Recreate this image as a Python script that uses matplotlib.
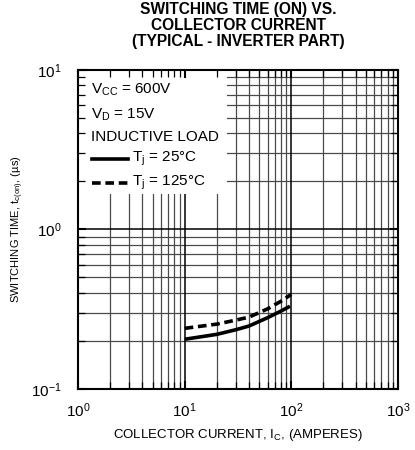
import matplotlib
matplotlib.use("Agg")
import matplotlib.pyplot as plt
import numpy as np
from matplotlib.patches import Rectangle
from matplotlib.lines import Line2D
from matplotlib.ticker import LogLocator, NullFormatter

plt.rcParams['font.family'] = ['Liberation Sans', 'DejaVu Sans']
plt.rcParams['mathtext.fontset'] = 'custom'
plt.rcParams['mathtext.rm'] = 'Liberation Sans'
plt.rcParams['mathtext.it'] = 'Liberation Sans:italic'
plt.rcParams['mathtext.bf'] = 'Liberation Sans:bold'

# Data
ic_25 = [10, 20, 30, 40, 60, 80, 97]
t_25 = [0.205, 0.220, 0.235, 0.248, 0.280, 0.308, 0.330]
ic_125 = [10, 20, 30, 40, 60, 80, 100]
t_125 = [0.240, 0.255, 0.270, 0.282, 0.318, 0.355, 0.392]
cond_lines = [r"V$_{\mathregular{CC}}$ = 600V", r"V$_{\mathregular{D}}$ = 15V", "INDUCTIVE LOAD"]
series_labels = [r"T$_{\mathregular{j}}$ = 25°C", r"T$_{\mathregular{j}}$ = 125°C"]

fig = plt.figure(figsize=(4.15, 4.5), dpi=100)
ax = fig.add_axes([0.188, 0.1356, 0.771, 0.7089])
ax.set_xscale('log')
ax.set_yscale('log')
ax.set_xlim(1, 1000)
ax.set_ylim(0.1, 10)

# grid drawn manually so that the white box can hide it while ticks stay on top
xmaj = [10, 100]
xmin = [m * d for d in (1, 10, 100) for m in range(2, 10)]
ymaj = [1]
ymin = [m * d for d in (0.1, 1) for m in range(2, 10)]
ax.vlines(xmin, 0.1, 10, colors='#4a4a4a', lw=0.9, zorder=0.8)
ax.hlines(ymin, 1, 1000, colors='#4a4a4a', lw=0.9, zorder=0.8)
ax.vlines(xmaj, 0.1, 10, colors='black', lw=1.1, zorder=0.9)
ax.hlines(ymaj, 1, 1000, colors='black', lw=1.1, zorder=0.9)

# white legend box
ax.add_patch(Rectangle((0, 0.61), 0.466, 0.39, transform=ax.transAxes,
                       facecolor='white', edgecolor='none', zorder=1))

dash = (2.4, 1.3)
ax.plot(ic_25, t_25, color='black', lw=2.6, solid_capstyle='butt', zorder=3)
ax.plot(ic_125, t_125, color='black', lw=2.6, dashes=dash, zorder=3)

for sp in ax.spines.values():
    sp.set_linewidth(1.5)
    sp.set_zorder(4)

ax.xaxis.set_major_locator(LogLocator(base=10, numticks=10))
ax.yaxis.set_major_locator(LogLocator(base=10, numticks=10))
ax.xaxis.set_minor_locator(LogLocator(base=10, subs=np.arange(2, 10), numticks=10))
ax.yaxis.set_minor_locator(LogLocator(base=10, subs=np.arange(2, 10), numticks=10))
ax.xaxis.set_minor_formatter(NullFormatter())
ax.yaxis.set_minor_formatter(NullFormatter())
ax.tick_params(which='both', direction='in', top=True, right=True, zorder=2)
ax.tick_params(which='major', length=6, width=1.5, labelsize=11)
ax.tick_params(which='minor', length=5, width=0.9)
ax.tick_params(axis='y', which='major', pad=12)
ax.tick_params(axis='x', which='major', pad=9)

ax.set_xlabel(r"COLLECTOR CURRENT, I$_{\mathregular{C}}$, (AMPERES)", fontsize=9.5, labelpad=5)
ax.set_ylabel(r"SWITCHING TIME, t$_{\mathregular{c(on)}}$, (µs)", fontsize=8, labelpad=3)
ax.set_title("SWITCHING TIME (ON) VS.\nCOLLECTOR CURRENT\n(TYPICAL - INVERTER PART)",
             fontsize=11.2, fontweight='bold', pad=17, linespacing=1.1)

# condition texts
ys = [0.937, 0.859, 0.79]
for s, yy in zip(cond_lines, ys):
    ax.text(0.042, yy, s, transform=ax.transAxes, fontsize=11, va='center', ha='left', zorder=5)

# legend samples
leg_y = [0.721, 0.646]
styles = [dict(), dict(dashes=dash)]
for lab, yy, st in zip(series_labels, leg_y, styles):
    ax.add_line(Line2D([0.044, 0.156], [yy, yy], transform=ax.transAxes, color='black',
                       lw=2.6, zorder=5, **st))
    ax.text(0.169, yy, lab, transform=ax.transAxes, fontsize=11, va='center', ha='left', zorder=5)

fig.savefig("out.png", dpi=100)
